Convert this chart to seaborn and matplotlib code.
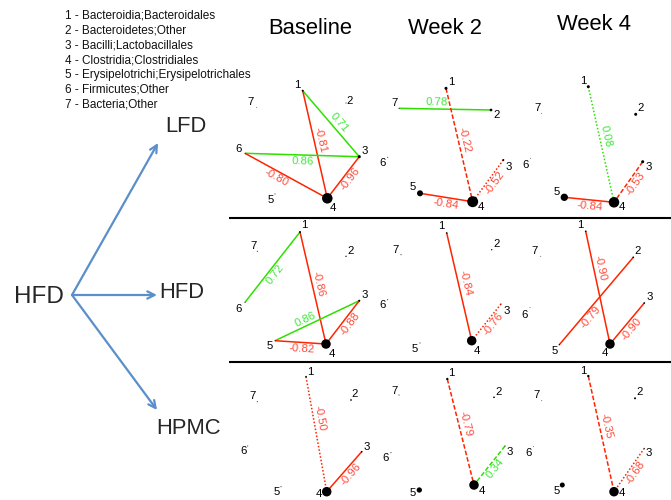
import math
import numpy as np
import pandas as pd
import matplotlib
matplotlib.use("Agg")
import matplotlib.pyplot as plt
import seaborn as sns

# ---------------- data ----------------
legend_lines = [
    "1 - Bacteroidia;Bacteroidales",
    "2 - Bacteroidetes;Other",
    "3 - Bacilli;Lactobacillales",
    "4 - Clostridia;Clostridiales",
    "5 - Erysipelotrichi;Erysipelotrichales",
    "6 - Firmicutes;Other",
    "7 - Bacteria;Other",
]
columns = ["Baseline", "Week 2", "Week 4"]
rows = ["LFD", "HFD", "HPMC"]
source_diet = "HFD"
node_ids = [1, 2, 3, 4, 5, 6, 7]

# relative abundance of each taxon (node size), per panel (row, col)
abund_LFD_base = [2.0, 0.5, 4.5, 55, 0.5, 0.5, 0.3]
abund_LFD_w2 = [4.5, 3.6, 2.0, 60, 18, 0.5, 0.5]
abund_LFD_w4 = [4.5, 4.5, 4.5, 55, 27, 0.3, 0.3]
abund_HFD_base = [2.0, 0.9, 2.0, 45, 0.5, 0.5, 0.5]
abund_HFD_w2 = [1.4, 0.9, 0.5, 45, 0.5, 0.5, 0.5]
abund_HFD_w4 = [1.4, 1.4, 1.4, 45, 0.9, 0.3, 0.3]
abund_HPMC_base = [1.4, 1.4, 1.4, 45, 0.5, 0.5, 0.5]
abund_HPMC_w2 = [2.7, 1.4, 0.5, 45, 14, 0.5, 0.5]
abund_HPMC_w4 = [2.7, 2.0, 0.5, 45, 12.5, 0.3, 0.3]

# correlations: (node a, node b, r, significance class)
corr_LFD_base = [(1, 3, 0.71, "s"), (1, 4, -0.81, "s"), (6, 3, 0.86, "s"),
                 (6, 4, -0.80, "s"), (3, 4, -0.96, "s")]
corr_LFD_w2 = [(7, 2, 0.78, "s"), (1, 4, -0.22, "d"), (3, 4, -0.52, "o"),
               (5, 4, -0.84, "s")]
corr_LFD_w4 = [(1, 4, 0.08, "o"), (3, 4, -0.53, "d"), (5, 4, -0.84, "s")]
corr_HFD_base = [(6, 1, 0.72, "s"), (1, 4, -0.86, "s"), (5, 3, 0.86, "s"),
                 (3, 4, -0.88, "s"), (5, 4, -0.82, "s")]
corr_HFD_w2 = [(1, 4, -0.84, "s"), (3, 4, -0.76, "o")]
corr_HFD_w4 = [(1, 4, -0.90, "s"), (5, 2, -0.79, "s"), (3, 4, -0.90, "s")]
corr_HPMC_base = [(1, 4, -0.50, "o"), (3, 4, -0.96, "s")]
corr_HPMC_w2 = [(1, 4, -0.79, "d"), (3, 4, 0.34, "d")]
corr_HPMC_w4 = [(1, 4, -0.35, "d"), (3, 4, -0.68, "o")]

abund = [[abund_LFD_base, abund_LFD_w2, abund_LFD_w4],
         [abund_HFD_base, abund_HFD_w2, abund_HFD_w4],
         [abund_HPMC_base, abund_HPMC_w2, abund_HPMC_w4]]
corrs = [[corr_LFD_base, corr_LFD_w2, corr_LFD_w4],
         [corr_HFD_base, corr_HFD_w2, corr_HFD_w4],
         [corr_HPMC_base, corr_HPMC_w2, corr_HPMC_w4]]

# ---------------- layout (pixel space) ----------------
col_x0 = [225, 375, 520]
row_y0 = [70, 218, 360]
layout_x = [
    [[77.7, 121, 134.3, 102.3, 50, 20, 31.7], [71, 116, 128.3, 97.7, 45, 12.7, 24],
     [68.3, 115.7, 122.7, 94, 44.3, 10.7, 21.7]],
    [[75, 121, 134.3, 101, 50, 20, 32.3], [71.7, 116.7, 126, 96.7, 45, 12.7, 26],
     [65.7, 113.3, 124.3, 90, 39.3, 10, 20.7]],
    [[81, 126, 136.7, 101.7, 56, 22.7, 32.3], [72.3, 119, 130, 99, 44.3, 16, 24],
     [68.3, 115, 124.3, 94, 42.3, 13.3, 21.7]],
]
layout_y = [
    [[20.7, 33, 86.7, 128.3, 124, 83.3, 37.3], [18.3, 40, 90, 131.7, 123.3, 87.3, 38.3],
     [16.7, 44.3, 91.7, 132.3, 127.3, 88.3, 43.3]],
    [[14, 38.3, 82.7, 126, 122.7, 84.3, 33.3], [15, 31.7, 86, 122.7, 125, 81.7, 36.7],
     [13.3, 39.3, 85, 126, 126.7, 89.3, 38.3]],
    [[16.7, 40, 91.7, 131.7, 126.7, 86, 41.7], [19, 37.3, 86, 125, 130, 92.7, 35],
     [16, 38.3, 88.3, 131.7, 125, 86.7, 40.7]],
]
label_off = [
    [[(-5, -5.7), (4, -2), (5.7, -5.7), (5.4, 9.4), (-4.3, 6), (-6, -4.3), (-5.7, -5.3)],
     [(5.7, -6.6), (5.7, 5), (5, 6.7), (8.3, 5), (-7.3, -6), (-5.4, 6), (-4.7, -5)],
     [(-5, -6), (5, -6), (5.6, 5.6), (7.7, 5), (-7.6, -5.6), (-4.7, 6.7), (-4.4, -5)]],
    [[(4, -6.7), (4.3, -5), (5, -6), (5.7, 10), (-5, 5.6), (-6, 6.4), (-4, -5)],
     [(-5, -6.7), (5, -5.7), (5.7, 6.7), (5, 10), (-5, 5.7), (-5.4, 5.6), (-5, -5)],
     [(-5, -6), (4, -6), (5, -5.7), (-5, 9), (-5, 6), (-5, 7.4), (-5.7, -5)]],
    [[(4.7, -4.4), (4, -5.7), (5, -5), (-7.5, 3.5), (-4.3, 5.6), (-4.4, 4.7), (-4.6, -5.7)],
     [(4.4, -6.3), (4.3, -5.6), (5, 5.7), (8, 6), (-7, 2.5), (-5.3, 5.6), (-4.7, -4.3)],
     [(-5, -5.3), (5, -6), (4, 4.4), (8, 1.5), (-5.6, 6.5), (-5, 6), (-5, -5.7)]],
]
# edge label placement: (fraction along edge, side)
elabel = [
    [[(0.55, -1), (0.47, -1), (0.51, 1), (0.42, 1), (0.44, 1)],
     [(0.41, -1), (0.47, -1), (0.45, 1), (0.5, 1)],
     [(0.44, -1), (0.45, 1), (0.52, 1)]],
    [[(0.45, 1), (0.48, -1), (0.39, -1), (0.44, 1), (0.54, 1)],
     [(0.48, -1), (0.44, 1)],
     [(0.34, -1), (0.36, 1), (0.53, 1)]],
    [[(0.37, -1), (0.46, 1)],
     [(0.44, -1), (0.47, 1)],
     [(0.44, -1), (0.48, 1)]],
]
style_map = {"s": "-", "d": (0, (3.0, 1.4)), "o": (0, (1.0, 1.3))}
RED_LINE, RED_TXT = "#ff2400", "#ff4a3a"
GRN_LINE, GRN_TXT = "#2ee000", "#3ee83a"

# ---------------- figure ----------------
sns.set_theme(style="white")
plt.rcParams["font.family"] = ["Liberation Sans", "DejaVu Sans"]

fig = plt.figure(figsize=(6.71, 5.0), dpi=100)
ax = fig.add_axes([0, 0, 1, 1])

# legend text
for i, t in enumerate(legend_lines):
    ax.text(65, 16 + 14.8 * i, t, fontsize=8.5, ha="left", va="center", color="#111111")

# column titles
for c, (name, cx, cy) in enumerate(zip(columns, [310, 445, 594], [28, 28, 25])):
    ax.text(cx, cy, name, fontsize=15.8, ha="center", va="center", color="black")

# diet labels and arrows
ax.text(39, 297, source_diet, fontsize=17.5, ha="center", va="center")
row_label_xy = [(186, 127), (182, 293), (189, 428)]
arrow_tips = [(158, 143), (157, 295), (157, 410)]
for name, (lx, ly), tip in zip(rows, row_label_xy, arrow_tips):
    ax.text(lx, ly, name, fontsize=15.8, ha="center", va="center")
    ax.annotate("", xy=tip, xytext=(72, 295),
                arrowprops=dict(arrowstyle="->", color="#5b8fca", lw=1.6,
                                mutation_scale=13, shrinkA=0, shrinkB=0))

# separators
for ysep in [218, 362]:
    ax.plot([229, 671], [ysep, ysep], color="black", lw=1.5, solid_capstyle="butt")

# nodes
recs = []
for r in range(3):
    for c in range(3):
        for k, nid in enumerate(node_ids):
            recs.append(dict(x=col_x0[c] + layout_x[r][c][k],
                             y=row_y0[r] + layout_y[r][c][k],
                             abund=abund[r][c][k]))
nodes = pd.DataFrame(recs)
sns.scatterplot(data=nodes, x="x", y="y", size="abund", sizes=(0, 104),
                size_norm=(0, 100), color="black", edgecolor="none",
                legend=False, ax=ax, zorder=4)
ax.set_xlim(0, 671)
ax.set_ylim(500, 0)
ax.axis("off")

# node labels and edges
for r in range(3):
    for c in range(3):
        px = [col_x0[c] + v for v in layout_x[r][c]]
        py = [row_y0[r] + v for v in layout_y[r][c]]
        for k, nid in enumerate(node_ids):
            dx, dy = label_off[r][c][k]
            ax.text(px[k] + dx, min(py[k] + dy, 494), str(nid), fontsize=8.2,
                    ha="center", va="center", color="black", zorder=5)
        for (a, b, rv, sig), (tf, side) in zip(corrs[r][c], elabel[r][c]):
            x1, y1 = px[a - 1], py[a - 1]
            x2, y2 = px[b - 1], py[b - 1]
            lc = GRN_LINE if rv > 0 else RED_LINE
            tc = GRN_TXT if rv > 0 else RED_TXT
            ax.plot([x1, x2], [y1, y2], color=lc, lw=1.1, linestyle=style_map[sig],
                    solid_capstyle="butt", zorder=2)
            ang = math.degrees(math.atan2(-(y2 - y1), x2 - x1))
            if ang > 90:
                ang -= 180
            elif ang <= -90:
                ang += 180
            ar = math.radians(ang)
            bx, by = math.sin(ar), math.cos(ar)
            lx = x1 + tf * (x2 - x1) + side * 6.5 * bx
            ly = y1 + tf * (y2 - y1) + side * 6.5 * by
            ax.text(lx, ly, f"{rv:.2f}", fontsize=8.2, color=tc, rotation=ang,
                    rotation_mode="anchor", ha="center", va="center", zorder=5)

fig.savefig("out.png", dpi=100, facecolor="white")
